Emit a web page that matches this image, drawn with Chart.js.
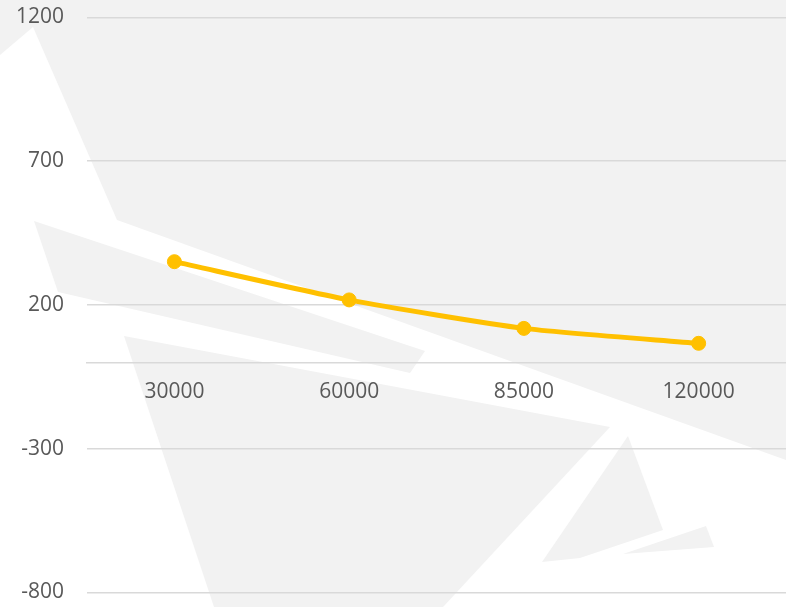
<!DOCTYPE html>
<html>
<head>
<meta charset="utf-8">
<script src="https://cdn.jsdelivr.net/npm/chart.js@4/dist/chart.umd.min.js"></script>
<style>
  html, body { margin: 0; padding: 0; background: #ffffff; }
  #wrap { width: 786px; height: 607px; }
</style>
</head>
<body>
<div id="wrap"><canvas id="chart"></canvas></div>
<script>
// datos
const categorias = ["30000", "60000", "85000", "120000"];
const valores = [350, 217, 118, 66];
const ejeYMin = -800;
const ejeYMax = 1200;
const ejeYPaso = 500;

// fondo decorativo (formas grises detras del grafico)
const formasFondo = [
  [[0, 0], [786, 0], [786, 460], [117, 220], [33, 27], [0, 55]],
  [[34, 221], [425, 351], [410, 373], [58, 292]],
  [[124, 336], [610, 427], [443, 607], [214, 607]],
  [[628, 436], [663, 530], [580, 558], [542, 562]],
  [[706, 526], [714, 547], [623, 554]],
];

const fondoPlugin = {
  id: "fondo",
  beforeDraw(chart) {
    const ctx = chart.ctx;
    const sx = chart.width / 786;
    const sy = chart.height / 607;
    ctx.save();
    ctx.fillStyle = "#ffffff";
    ctx.fillRect(0, 0, chart.width, chart.height);
    ctx.fillStyle = "#f2f2f2";
    formasFondo.forEach((forma) => {
      ctx.beginPath();
      forma.forEach(([x, y], i) => {
        if (i === 0) ctx.moveTo(x * sx, y * sy);
        else ctx.lineTo(x * sx, y * sy);
      });
      ctx.closePath();
      ctx.fill();
    });
    ctx.restore();
  },
};

const fuente = { family: "'Open Sans', sans-serif", size: 21 };
const separacionY = 23;

new Chart(document.getElementById("chart"), {
  type: "line",
  data: {
    labels: categorias,
    datasets: [
      {
        label: "Serie",
        data: valores,
        borderColor: "#FFC000",
        backgroundColor: "#FFC000",
        borderWidth: 5,
        pointRadius: 7,
        pointBorderWidth: 1,
        pointBackgroundColor: "#FFC000",
        pointBorderColor: "#FFC000",
        tension: 0.2,
        fill: false,
      },
    ],
  },
  options: {
    responsive: true,
    maintainAspectRatio: false,
    animation: false,
    layout: { autoPadding: false, padding: { left: 16, right: 0, top: 17.3, bottom: 14.7 } },
    plugins: {
      legend: { display: false },
      tooltip: { enabled: false },
    },
    scales: {
      x: {
        position: { y: 0 },
        offset: true,
        grid: { display: false, drawTicks: false },
        border: { display: true, color: "#d9d9d9", width: 1.5 },
        ticks: { color: "#595959", font: fuente, padding: 17, maxRotation: 0 },
      },
      y: {
        min: ejeYMin,
        max: ejeYMax,
        grid: { color: "#d9d9d9", lineWidth: 1.5, drawTicks: false },
        border: { display: false },
        ticks: {
          stepSize: ejeYPaso,
          color: "#595959",
          font: fuente,
          padding: separacionY,
          callback: (v) => String(v),
        },
        // el padding de las etiquetas se cuenta dos veces, se quita el sobrante
        afterFit: (escala) => {
          escala.width -= separacionY;
          escala.paddingTop = 0;
          escala.paddingBottom = 0;
        },
      },
    },
  },
  plugins: [fondoPlugin],
});
</script>
</body>
</html>
